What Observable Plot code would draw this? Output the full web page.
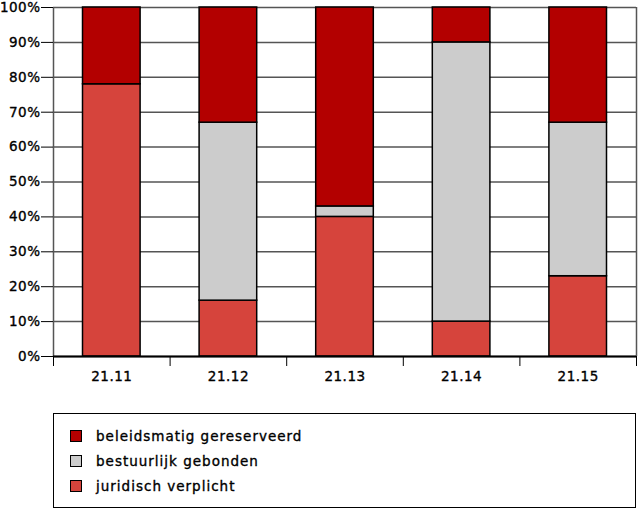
<!DOCTYPE html>
<html><head><meta charset="utf-8">
<script src="https://cdn.jsdelivr.net/npm/d3@7"></script>
<script src="https://cdn.jsdelivr.net/npm/@observablehq/plot@0.6"></script>
<style>
body{margin:0;background:#fff;font-family:"DejaVu Sans",sans-serif;}
#wrap{position:relative;width:638px;height:510px;}
#legend{position:absolute;left:53px;top:413px;width:581px;height:93px;border:1.5px solid #000;box-sizing:content-box;}
.item{position:absolute;left:16px;display:flex;align-items:center;font-size:13.5px;letter-spacing:1px;color:#000;-webkit-text-stroke:0.35px #000;}
.sw{width:10px;height:10px;border:1.5px solid #000;margin-right:14px;-webkit-text-stroke:0;}
svg text{letter-spacing:0.5px;stroke:#000;stroke-width:0.35px;}
</style></head>
<body><div id="wrap"><div id="chart"></div><div id="legend"></div></div>
<script>
const categories = ["21.11","21.12","21.13","21.14","21.15"];
const series = ["juridisch verplicht","bestuurlijk gebonden","beleidsmatig gereserveerd"];
const juridisch = [78,16,40,10,23];
const bestuurlijk = [0,51,3,80,44];
const beleidsmatig = [22,33,57,10,33];
const colors = ["#d6443c","#cccccc","#b30000"];
const yTicks = [0,10,20,30,40,50,60,70,80,90,100];
const legendOrder = ["beleidsmatig gereserveerd","bestuurlijk gebonden","juridisch verplicht"];

const values = [juridisch, bestuurlijk, beleidsmatig];
const data = [];
categories.forEach((c, i) => {
  let acc = 0;
  series.forEach((s, k) => {
    const v = values[k][i];
    if (v > 0) data.push({i, i1: i + 1, cat: c, series: s, y1: acc, y2: acc + v});
    acc += v;
  });
});

const chart = Plot.plot({
  width: 638, height: 395,
  marginTop: 7, marginBottom: 39, marginLeft: 53, marginRight: 2,
  x: {type: "linear", domain: [0, categories.length], label: null},
  y: {domain: [0, 100], label: null},
  color: {domain: series, range: colors},
  style: {fontFamily: "DejaVu Sans, sans-serif", fontSize: "13.5px", color: "#000", background: "#fff"},
  marks: [
    Plot.ruleY(yTicks, {stroke: "#555", strokeWidth: 1.5}),
    Plot.ruleX([0, categories.length], {stroke: "#555", strokeWidth: 1.5}),
    Plot.rect(data, {x1: "i", x2: "i1", y1: "y1", y2: "y2", fill: "series", stroke: "#000", strokeWidth: 1.5, insetLeft: 29.5, insetRight: 29.5}),
    Plot.ruleY([0], {stroke: "#000", strokeWidth: 2}),
    Plot.axisY({ticks: yTicks, tickFormat: d => d + "%", tickSize: 12, tickPadding: 1, fontSize: 13.5, label: null}),
    Plot.axisX({ticks: d3.range(0, categories.length + 1), tickFormat: () => "", tickSize: 10, label: null}),
    Plot.axisX({ticks: categories.map((c, i) => i + 0.5), tickFormat: d => categories[Math.floor(d)], tickSize: 0, tickPadding: 15, fontSize: 13.5, label: null})
  ]
});
document.getElementById("chart").appendChild(chart);

const legend = document.getElementById("legend");
legendOrder.forEach((s, k) => {
  const it = document.createElement("div");
  it.className = "item";
  it.style.top = (14 + k * 25) + "px";
  const sw = document.createElement("div");
  sw.className = "sw";
  sw.style.background = colors[series.indexOf(s)];
  const t = document.createElement("span");
  t.textContent = s;
  it.appendChild(sw); it.appendChild(t);
  legend.appendChild(it);
});
</script></body></html>
